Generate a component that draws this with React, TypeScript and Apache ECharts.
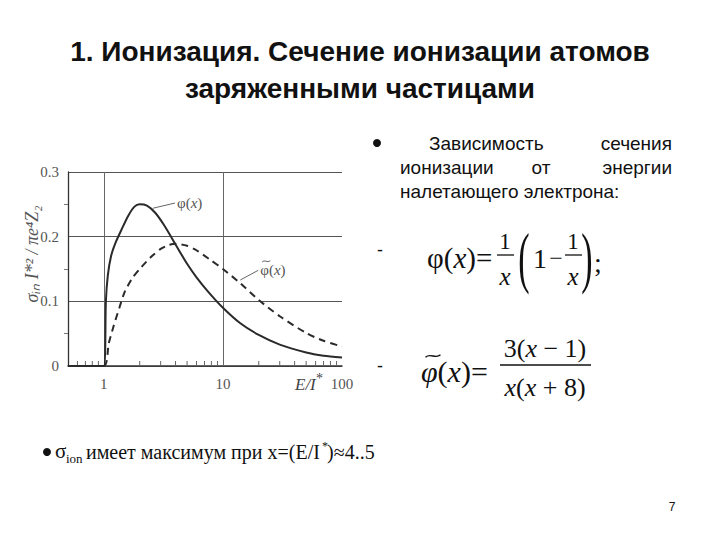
import React, { useEffect, useRef } from "react";
import * as echarts from "echarts";

// Energy E/I* (log scale) and reduced cross-section values
const solidX = [0.5, 1, 1.04, 1.08, 1.15, 1.25, 1.4, 1.6, 1.8, 2, 2.3, 2.7, 3.2, 4, 5, 6, 7.5, 10, 14, 20, 30, 50, 70, 100];
const solidY = [0, 0, 0.1, 0.14, 0.17, 0.19, 0.21, 0.232, 0.246, 0.25, 0.248, 0.237, 0.218, 0.188, 0.158, 0.137, 0.115, 0.09, 0.066, 0.048, 0.033, 0.021, 0.016, 0.013];

const dashX = [0.5, 1, 1.1, 1.2, 1.35, 1.5, 1.75, 2, 2.5, 3, 3.5, 4, 5, 6, 8, 10, 14, 20, 30, 50, 70, 100];
const dashY = [0, 0, 0.035, 0.06, 0.09, 0.115, 0.137, 0.15, 0.169, 0.181, 0.187, 0.189, 0.186, 0.179, 0.163, 0.15, 0.128, 0.102, 0.077, 0.051, 0.039, 0.03];

const minorTicksX = [0.6, 0.7, 0.8, 0.9, 2, 3, 4, 5, 6, 7, 8, 9, 20, 30, 40, 50, 60, 70, 80, 90];
const gridX = [1, 10];
const xLabels = [1, 10, 100];

const leaderPhi = [[2.59, 0.244], [3.96, 0.252]];
const leaderPhiT = [[14.0, 0.133], [19.8, 0.148]];

const SANS = "Liberation Sans, Arial, sans-serif";
const SERIF = "Liberation Serif, Times New Roman, serif";

function txt(text: string, x: number, y: number, o: any = {}) {
  return {
    type: "text",
    x,
    y,
    scaleX: o.scaleX ?? 1,
    scaleY: o.scaleY ?? 1,
    rotation: o.rotation ?? 0,
    style: {
      text,
      fontSize: o.size ?? 20,
      fontFamily: o.family ?? SANS,
      fontWeight: o.weight ?? "normal",
      fontStyle: o.style ?? "normal",
      fill: o.fill ?? "#111",
      align: o.align ?? "left",
      verticalAlign: o.valign ?? "middle",
      rich: o.rich,
    },
  };
}
function bar(x1: number, x2: number, y: number, w = 1.3) {
  return { type: "line", shape: { x1, y1: y, x2, y2: y }, style: { stroke: "#111", lineWidth: w } };
}
function tilde(cx: number, cy: number, w: number, h: number, color: string, lw: number) {
  return {
    type: "bezierCurve",
    shape: {
      x1: cx - w / 2,
      y1: cy + h / 3,
      cpx1: cx - w / 6,
      cpy1: cy - h,
      cpx2: cx + w / 6,
      cpy2: cy + h,
      x2: cx + w / 2,
      y2: cy - h / 3,
    },
    style: { stroke: color, lineWidth: lw, fill: null },
  };
}
function dot(cx: number, cy: number, r: number) {
  return { type: "circle", shape: { cx, cy, r }, style: { fill: "#111" } };
}

const richF = (size: number) => ({
  a: { fontFamily: SERIF, fontSize: size, fill: "#111" },
  i: { fontFamily: SERIF, fontSize: size, fontStyle: "italic", fill: "#111" },
});

export default function App() {
  const ref = useRef<HTMLDivElement>(null);
  useEffect(() => {
    const chart = echarts.init(ref.current!, null, { renderer: "svg" });
    const isLabel = (v: number) => xLabels.some((l) => Math.abs(v - l) / l < 1e-6);
    const curveColor = "#2a2a2a";
    const labelRich = {
      a: { fontFamily: SERIF, fontSize: 15, color: "#555" },
      i: { fontFamily: SERIF, fontSize: 15, fontStyle: "italic", color: "#555" },
    };
    const staticGraphic: any[] = [
      txt("1. Ионизация. Сечение ионизации атомов", 360, 51, { size: 28, weight: "bold", align: "center" }),
      txt("заряженными частицами", 360, 88, { size: 28, weight: "bold", align: "center" }),
      // right paragraph
      dot(377, 143, 4),
      txt("Зависимость", 429, 143, { size: 19 }),
      txt("сечения", 672, 143, { size: 19, align: "right" }),
      txt("ионизации", 400, 167, { size: 19 }),
      txt("от", 541, 167, { size: 19, align: "center" }),
      txt("энергии", 672, 167, { size: 19, align: "right" }),
      txt("налетающего электрона:", 400, 191, { size: 19 }),
      txt("-", 377, 250, { size: 18 }),
      txt("-", 377, 366, { size: 18 }),
      // formula 1
      txt("{a|φ(}{i|x}{a|)=}", 427, 258, { size: 29, rich: richF(29) }),
      txt("1", 505, 241, { size: 23, family: SERIF, align: "center" }),
      bar(497, 514, 255),
      txt("x", 505, 276, { size: 25, family: SERIF, style: "italic", align: "center" }),
      txt("(", 524, 257, { size: 34, family: SERIF, align: "center", scaleY: 2.0 }),
      txt("1", 540, 258, { size: 28, family: SERIF, align: "center" }),
      txt("−", 556, 258, { size: 24, family: SERIF, align: "center" }),
      txt("1", 573, 241, { size: 23, family: SERIF, align: "center" }),
      bar(565, 582, 255),
      txt("x", 573, 276, { size: 25, family: SERIF, style: "italic", align: "center" }),
      txt(")", 587, 257, { size: 34, family: SERIF, align: "center", scaleY: 2.0 }),
      txt(";", 598, 262, { size: 28, family: SERIF, align: "center" }),
      // formula 2
      tilde(433, 356, 15, 3.5, "#111", 1.4),
      txt("{i|φ}{a|(}{i|x}{a|)=}", 421, 371, { size: 30, rich: richF(30) }),
      txt("{a|3(}{i|x}{a| − 1)}", 545, 348, { size: 26, align: "center", rich: richF(26) }),
      bar(500, 591, 365),
      txt("{i|x}{a|(}{i|x}{a| + 8)}", 545, 387, { size: 26, align: "center", rich: richF(26) }),
      // bottom note
      dot(47, 452, 4),
      txt("σ", 55, 451, { size: 21, family: SERIF }),
      txt("ion", 66, 458, { size: 13, family: SERIF }),
      txt("имеет максимум при x=(E/I", 86, 452, { size: 20, family: SERIF }),
      txt("*", 322, 446, { size: 12, family: SERIF }),
      txt(")≈4..5", 327, 452, { size: 20, family: SERIF }),
      // axis texts
      txt("E/I", 295, 384, { size: 17, family: SERIF, style: "italic", fill: "#444" }),
      txt("*", 316, 378, { size: 14, family: SERIF, fill: "#444" }),
      txt("σᵢₙ I*² / πe⁴Z₂", 32, 254, { size: 18, family: SERIF, style: "italic", fill: "#555", align: "center", rotation: Math.PI / 2 }),
      txt("7", 672, 507, { size: 12, align: "center" }),
    ];
    const option: any = {
      animation: false,
      backgroundColor: "#fff",
      grid: { left: 68, top: 172, width: 274, height: 194, containLabel: false },
      xAxis: {
        type: "log",
        logBase: 10,
        min: 0.5,
        max: 100,
        axisLine: { show: true, lineStyle: { color: "#333", width: 1.5 } },
        axisTick: { show: false },
        splitLine: { show: false },
        axisLabel: {
          showMinLabel: false,
          formatter: (v: number) => (isLabel(v) ? String(Math.round(v)) : ""),
          color: "#555",
          fontFamily: SERIF,
          fontSize: 15,
          margin: 10,
        },
      },
      yAxis: {
        type: "value",
        min: 0,
        max: 0.3,
        interval: 0.1,
        axisLine: { show: true, lineStyle: { color: "#333", width: 1.3 } },
        axisTick: { show: false },
        minorTick: { show: true, splitNumber: 2, length: 4, lineStyle: { color: "#777" } },
        splitLine: { show: true, lineStyle: { color: "#555", width: 1 } },
        axisLabel: {
          formatter: (v: number) => (v === 0 ? "0" : v.toFixed(1)),
          color: "#555",
          fontFamily: SERIF,
          fontSize: 15,
          margin: 9,
        },
      },
      series: [
        {
          type: "line",
          data: solidX.map((x, i) => [x, solidY[i]]),
          showSymbol: false,
          smooth: 0.25,
          lineStyle: { color: curveColor, width: 2 },
          markLine: {
            silent: true,
            symbol: "none",
            label: { show: false },
            lineStyle: { color: "#666", type: "solid", width: 1 },
            data: gridX.map((x) => ({ xAxis: x })),
          },
          z: 5,
        },
        {
          type: "line",
          data: dashX.map((x, i) => [x, dashY[i]]),
          showSymbol: false,
          smooth: 0.25,
          lineStyle: { color: curveColor, width: 2, type: [7, 5] },
          z: 5,
        },
        {
          type: "line",
          data: leaderPhi,
          showSymbol: false,
          lineStyle: { color: "#666", width: 1 },
          endLabel: { show: true, distance: 2, formatter: "{a|φ(}{i|x}{a|)}", rich: labelRich },
        },
        {
          type: "line",
          data: leaderPhiT,
          showSymbol: false,
          lineStyle: { color: "#666", width: 1 },
          endLabel: { show: true, distance: 2, formatter: "{a|φ(}{i|x}{a|)}", rich: labelRich },
        },
        {
          type: "custom",
          data: minorTicksX.map((x) => [x, 0]),
          renderItem: (_p: any, api: any) => {
            const pt = api.coord([api.value(0), 0]);
            return {
              type: "line",
              shape: { x1: pt[0], y1: pt[1], x2: pt[0], y2: pt[1] - 5 },
              style: { stroke: "#666", lineWidth: 1 },
            };
          },
          silent: true,
        },
      ],
      graphic: staticGraphic,
    };
    chart.setOption(option);
    // tilde above the φ of the dashed-curve label, anchored to the leader's end point
    const end = chart.convertToPixel({ xAxisIndex: 0, yAxisIndex: 0 }, leaderPhiT[1]) as number[];
    if (end && isFinite(end[0])) {
      chart.setOption({
        graphic: [...staticGraphic, tilde(end[0] + 8, end[1] - 9, 8, 2, "#555", 1)],
      });
    }
    return () => chart.dispose();
  }, []);
  return (
    <div
      ref={ref}
      style={{ position: "fixed", left: 0, top: 0, width: 720, height: 540, background: "#fff" }}
    />
  );
}
